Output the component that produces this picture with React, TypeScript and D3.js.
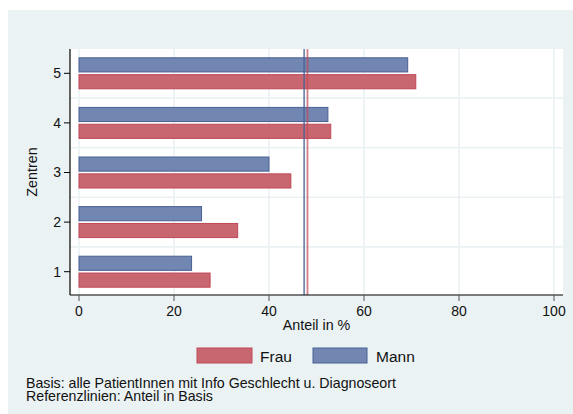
import React from "react";
import * as d3 from "d3";

const categories = [1, 2, 3, 4, 5];
const frauValues = [27.6, 33.4, 44.6, 53.0, 70.9];
const mannValues = [23.7, 25.8, 40.0, 52.4, 69.2];
const refFrau = 48.1;
const refMann = 47.4;
const xTicks = [0, 20, 40, 60, 80, 100];
const seriesNames = ["Frau", "Mann"];
const footnotes = [
  "Basis: alle PatientInnen mit Info Geschlecht u. Diagnoseort",
  "Referenzlinien: Anteil in Basis",
];

const W = 573;
const H = 414;
const plot = { left: 70, right: 563, top: 49, bottom: 295 };
const bg = "#eaf2f3";
const blueFill = "rgb(113,134,176)";
const blueStroke = "rgb(74,96,150)";
const redFill = "rgb(201,103,113)";
const redStroke = "rgb(192,72,86)";
const font = "'Liberation Sans', Arial, Helvetica, sans-serif";

export default function App() {
  const x = d3.scaleLinear().domain([0, 100]).range([79, 554]);
  const y = d3.scaleLinear().domain([0.5, 5.5]).range([296.5, 48.5]);
  const inner = d3.scaleBand<string>().domain(["Mann", "Frau"]).range([-15.5, 15.5]).paddingInner(0.16);
  const bh = inner.bandwidth();
  const hGrid = [1.5, 2.5, 3.5, 4.5];

  return (
    <svg width={W} height={H} style={{ position: "absolute", left: 0, top: 0, display: "block" }} fontFamily={font}>
      <rect x={8} y={10} width={W - 8} height={H - 10} fill={bg} />
      <rect x={plot.left} y={plot.top} width={plot.right - plot.left} height={plot.bottom - plot.top} fill="#fff" />
      {xTicks.map((t) => (
        <line key={"vg" + t} x1={x(t)} x2={x(t)} y1={plot.top} y2={plot.bottom} stroke={bg} strokeWidth={1.6} />
      ))}
      {hGrid.map((g) => (
        <line key={"hg" + g} x1={plot.left} x2={plot.right} y1={y(g)} y2={y(g)} stroke={bg} strokeWidth={1.6} />
      ))}
      {categories.map((c, i) => (
        <g key={"c" + c}>
          <rect
            x={x(0)}
            y={y(c) + (inner("Mann") as number)}
            width={x(mannValues[i]) - x(0)}
            height={bh}
            fill={blueFill}
            stroke={blueStroke}
            strokeWidth={1}
          />
          <rect
            x={x(0)}
            y={y(c) + (inner("Frau") as number)}
            width={x(frauValues[i]) - x(0)}
            height={bh}
            fill={redFill}
            stroke={redStroke}
            strokeWidth={1}
          />
        </g>
      ))}
      <line x1={x(refMann)} x2={x(refMann)} y1={plot.top} y2={plot.bottom} stroke={blueStroke} strokeOpacity={0.75} strokeWidth={1.8} />
      <line x1={x(refFrau)} x2={x(refFrau)} y1={plot.top} y2={plot.bottom} stroke={redStroke} strokeOpacity={0.7} strokeWidth={1.8} />
      <line x1={plot.left} x2={plot.left} y1={plot.top} y2={plot.bottom} stroke="#000" strokeWidth={1.2} />
      <line x1={plot.left} x2={plot.right} y1={plot.bottom} y2={plot.bottom} stroke="#000" strokeWidth={1.2} />
      {categories.map((c) => (
        <g key={"yt" + c}>
          <line x1={plot.left - 6} x2={plot.left} y1={y(c)} y2={y(c)} stroke="#000" strokeWidth={1} />
          <text x={plot.left - 9} y={y(c)} dy="0.35em" textAnchor="end" fontSize={14} fill="#111">
            {c}
          </text>
        </g>
      ))}
      {xTicks.map((t) => (
        <g key={"xt" + t}>
          <line x1={x(t)} x2={x(t)} y1={plot.bottom} y2={plot.bottom + 6} stroke="#555" strokeWidth={1} />
          <text x={x(t)} y={plot.bottom + 21} textAnchor="middle" fontSize={14} fill="#111">
            {t}
          </text>
        </g>
      ))}
      <text x={(plot.left + plot.right) / 2} y={330} textAnchor="middle" fontSize={14.3} fill="#111">
        Anteil in %
      </text>
      <text transform={`translate(37,${(plot.top + plot.bottom) / 2}) rotate(-90)`} textAnchor="middle" fontSize={14.3} fill="#111">
        Zentren
      </text>
      <rect x={197} y={348} width={55} height={15} fill={redFill} stroke={redStroke} strokeWidth={1} />
      <text x={260} y={361.5} fontSize={15.5} fill="#111">{seriesNames[0]}</text>
      <rect x={313} y={348} width={54} height={15} fill={blueFill} stroke={blueStroke} strokeWidth={1} />
      <text x={376} y={361.5} fontSize={15.5} fill="#111">{seriesNames[1]}</text>
      {footnotes.map((f, i) => (
        <text key={"fn" + i} x={26} y={388 + i * 13} fontSize={14.2} fill="#111">
          {f}
        </text>
      ))}
    </svg>
  );
}
